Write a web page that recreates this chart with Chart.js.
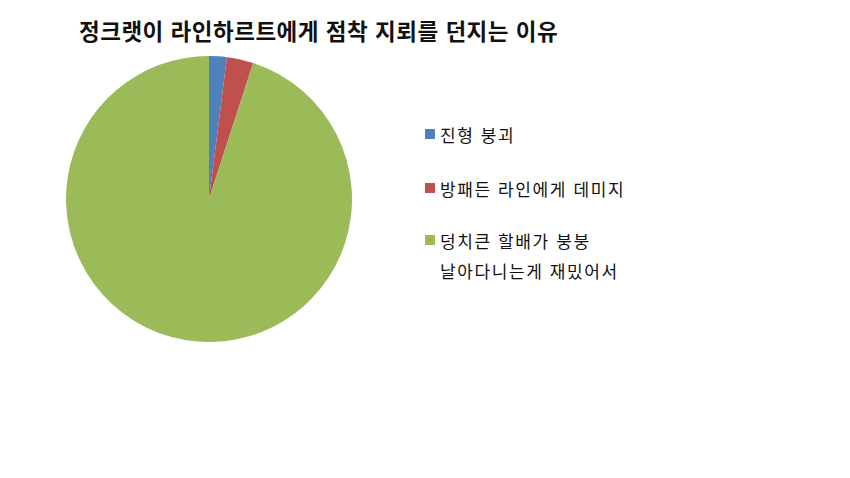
<!DOCTYPE html>
<html lang="ko">
<head>
<meta charset="utf-8">
<script src="https://cdn.jsdelivr.net/npm/chart.js@4"></script>
<style>
  html, body { margin: 0; padding: 0; background: #fff; }
  body { width: 850px; height: 478px; position: relative; overflow: hidden;
         font-family: "Noto Sans CJK KR", "Noto Sans", sans-serif; color: #111; }
  #title { position: absolute; left: 79px; top: 15px; font-size: 22.5px; font-weight: bold;
           letter-spacing: 0.5px; line-height: 30px; white-space: nowrap; }
  #pie-box { position: absolute; left: 66px; top: 56px; width: 286px; height: 286px; }
  #legend { position: absolute; left: 425px; top: 120px; font-size: 17px; letter-spacing: 1.6px; }
  .item { position: absolute; left: 0; white-space: nowrap; line-height: 30px; }
  .sw { position: absolute; left: 0; top: 9px; width: 10px; height: 10px; }
  .txt { margin-left: 15px; }
</style>
</head>
<body>
<div id="title">정크랫이 라인하르트에게 점착 지뢰를 던지는 이유</div>
<div id="pie-box"><canvas id="pie"></canvas></div>
<div id="legend"></div>
<script>
  // chart data
  const labels = [['진형 붕괴'], ['방패든 라인에게 데미지'], ['덩치큰 할배가 붕붕', '날아다니는게 재밌어서']];
  const values = [2, 3, 95];
  const colors = ['#4F81BD', '#C0504D', '#9BBB59'];
  const legendTops = [0, 54, 106];

  new Chart(document.getElementById('pie'), {
    type: 'pie',
    data: {
      labels: labels.map((l) => l.join(' ')),
      datasets: [{ data: values, backgroundColor: colors, borderWidth: 0 }],
    },
    options: {
      responsive: true,
      maintainAspectRatio: false,
      animation: false,
      layout: { padding: 0 },
      plugins: { legend: { display: false }, tooltip: { enabled: false } },
    },
  });

  const legendEl = document.getElementById('legend');
  labels.forEach((lines, i) => {
    const item = document.createElement('div');
    item.className = 'item';
    item.style.top = legendTops[i] + 'px';
    item.innerHTML = `<span class="sw" style="background:${colors[i]}"></span>` +
      `<div class="txt">${lines.join('<br>')}</div>`;
    legendEl.appendChild(item);
  });
</script>
</body>
</html>
